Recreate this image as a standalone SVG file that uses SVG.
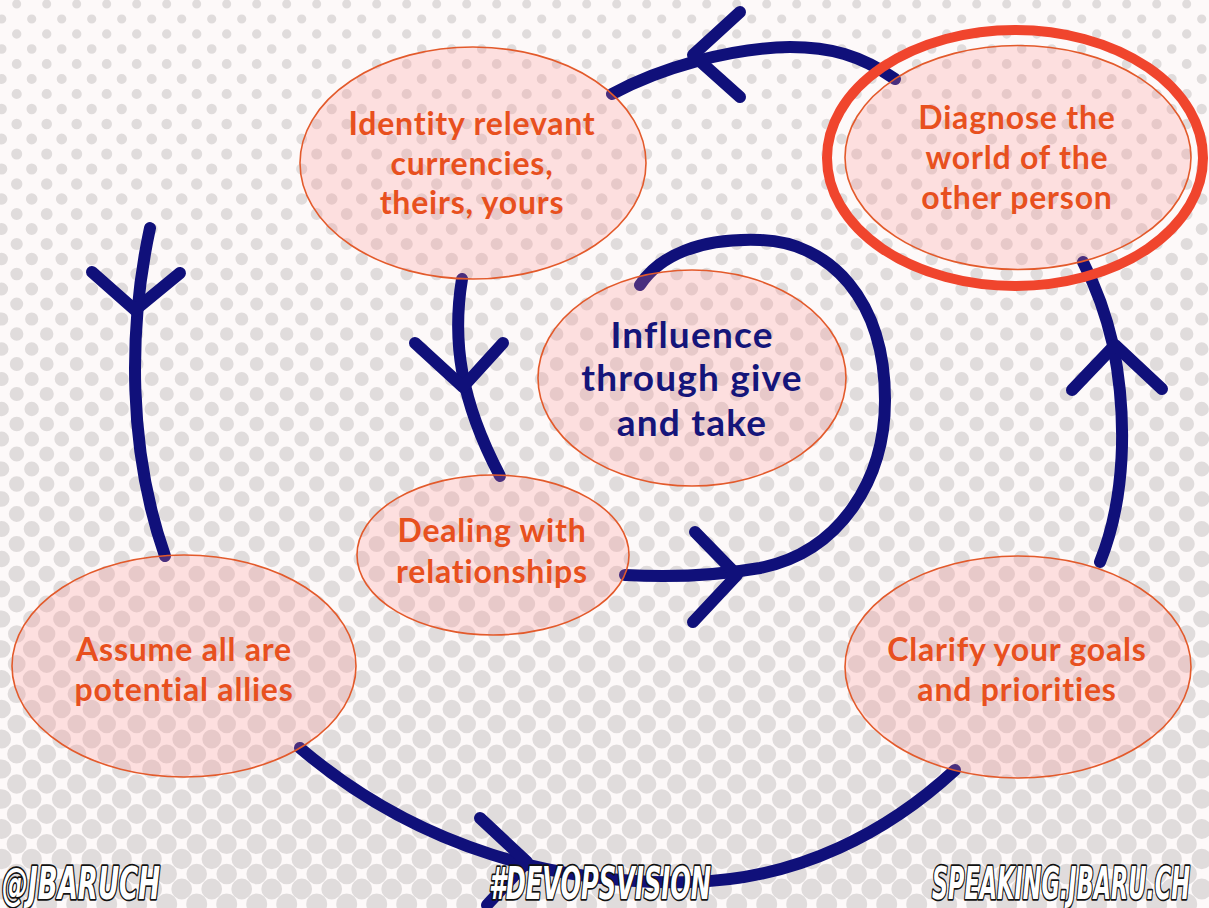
<svg xmlns="http://www.w3.org/2000/svg" width="1209" height="908" viewBox="0 0 1209 908">
<defs>
<style>
.bg{fill:#fdf9f9}
.dots path{fill:none;stroke:#e0dcdc;stroke-linecap:round;stroke-dasharray:0 30}
.node ellipse{fill:#ff8f8f;fill-opacity:0.24;stroke:#e35a2b;stroke-width:1.6}
.node ellipse.ring{fill:none;stroke:#f0452d;stroke-width:10}
.lbl{font-family:Lato,"Noto Sans",sans-serif;font-size:32px;font-weight:bold;fill:#e8501e;text-anchor:middle;letter-spacing:0.8px}
.center{font-family:Lato,"Noto Sans",sans-serif;font-size:37px;font-weight:bold;fill:#15157a;text-anchor:middle;letter-spacing:1.2px}
.conn path{fill:none;stroke:#10107a;stroke-width:12;stroke-linecap:round;stroke-linejoin:round}
.foot{font-family:"Liberation Sans Narrow","DejaVu Sans Condensed",sans-serif;font-style:italic;font-weight:bold;font-size:44px;fill:#ffffff;stroke:#111111;stroke-width:3.5;paint-order:stroke;stroke-linejoin:round}
</style>
</defs>
<rect class="bg" x="0" y="0" width="1209" height="908"/>
<g class="dots">
<path d="M16.7 4H1215" stroke-width="9.0"/>
<path d="M1.7 19H1215" stroke-width="9.2"/>
<path d="M16.7 34H1215" stroke-width="9.4"/>
<path d="M1.7 49H1215" stroke-width="9.6"/>
<path d="M16.7 64H1215" stroke-width="9.8"/>
<path d="M1.7 79H1215" stroke-width="10.0"/>
<path d="M16.7 94H1215" stroke-width="10.2"/>
<path d="M1.7 109H1215" stroke-width="10.4"/>
<path d="M16.7 124H1215" stroke-width="10.6"/>
<path d="M1.7 139H1215" stroke-width="10.8"/>
<path d="M16.7 154H1215" stroke-width="11.0"/>
<path d="M1.7 169H1215" stroke-width="11.2"/>
<path d="M16.7 184H1215" stroke-width="11.4"/>
<path d="M1.7 199H1215" stroke-width="11.6"/>
<path d="M16.7 214H1215" stroke-width="11.8"/>
<path d="M1.7 229H1215" stroke-width="12.0"/>
<path d="M16.7 244H1215" stroke-width="12.2"/>
<path d="M1.7 259H1215" stroke-width="12.4"/>
<path d="M16.7 274H1215" stroke-width="12.6"/>
<path d="M1.7 289H1215" stroke-width="12.8"/>
<path d="M16.7 304H1215" stroke-width="13.0"/>
<path d="M1.7 319H1215" stroke-width="13.2"/>
<path d="M16.7 334H1215" stroke-width="13.4"/>
<path d="M1.7 349H1215" stroke-width="13.6"/>
<path d="M16.7 364H1215" stroke-width="13.8"/>
<path d="M1.7 379H1215" stroke-width="14.0"/>
<path d="M16.7 394H1215" stroke-width="14.2"/>
<path d="M1.7 409H1215" stroke-width="14.4"/>
<path d="M16.7 424H1215" stroke-width="14.6"/>
<path d="M1.7 439H1215" stroke-width="14.8"/>
<path d="M16.7 454H1215" stroke-width="15.0"/>
<path d="M1.7 469H1215" stroke-width="15.2"/>
<path d="M16.7 484H1215" stroke-width="15.4"/>
<path d="M1.7 499H1215" stroke-width="15.6"/>
<path d="M16.7 514H1215" stroke-width="15.8"/>
<path d="M1.7 529H1215" stroke-width="16.0"/>
<path d="M16.7 544H1215" stroke-width="16.2"/>
<path d="M1.7 559H1215" stroke-width="16.4"/>
<path d="M16.7 574H1215" stroke-width="16.6"/>
<path d="M1.7 589H1215" stroke-width="16.8"/>
<path d="M16.7 604H1215" stroke-width="17.0"/>
<path d="M1.7 619H1215" stroke-width="17.2"/>
<path d="M16.7 634H1215" stroke-width="17.4"/>
<path d="M1.7 649H1215" stroke-width="17.6"/>
<path d="M16.7 664H1215" stroke-width="17.8"/>
<path d="M1.7 679H1215" stroke-width="18.0"/>
<path d="M16.7 694H1215" stroke-width="18.2"/>
<path d="M1.7 709H1215" stroke-width="18.4"/>
<path d="M16.7 724H1215" stroke-width="18.6"/>
<path d="M1.7 739H1215" stroke-width="18.8"/>
<path d="M16.7 754H1215" stroke-width="19.0"/>
<path d="M1.7 769H1215" stroke-width="19.2"/>
<path d="M16.7 784H1215" stroke-width="19.4"/>
<path d="M1.7 799H1215" stroke-width="19.6"/>
<path d="M16.7 814H1215" stroke-width="19.8"/>
<path d="M1.7 829H1215" stroke-width="20.0"/>
<path d="M16.7 844H1215" stroke-width="20.2"/>
<path d="M1.7 859H1215" stroke-width="20.4"/>
<path d="M16.7 874H1215" stroke-width="20.6"/>
<path d="M1.7 889H1215" stroke-width="20.8"/>
<path d="M16.7 904H1215" stroke-width="21.0"/>
</g>
<g id="connectors" class="conn">
<path d="M150 228 C128 330 128 450 165 556"/>
<path d="M92 272 L135 310 L180 273"/>
<path d="M300 748 C420 850 560 885 690 882 C800 880 890 830 955 770"/>
<path d="M480 818 L527 862 L487 905"/>
<path d="M1100 562 C1125 500 1128 420 1113 345 C1105 310 1095 285 1083 262"/>
<path d="M1072 390 L1115 345 L1162 389"/>
<path d="M895 79 C860 55 830 47 790 47 C730 48 660 68 612 94"/>
<path d="M740 12 L693 55 L740 97"/>
<path d="M462 279 C452 340 460 400 500 476"/>
<path d="M415 343 L463 387 L503 343"/>
<path d="M625 575 C680 578 720 575 760 568 C840 552 885 480 885 400 C885 300 830 242 760 240 C700 238 660 255 640 285"/>
<path d="M695 532 L737 575 L693 622"/>
</g>
<g id="node-identify" class="node">
<ellipse cx="473" cy="163" rx="173" ry="116"/>
<text class="lbl" x="472" y="135">Identity relevant</text>
<text class="lbl" x="472" y="175">currencies,</text>
<text class="lbl" x="472" y="214">theirs, yours</text>
</g>
<g id="node-diagnose" class="node">
<ellipse cx="1018" cy="157.5" rx="173" ry="112"/>
<text class="lbl" x="1017" y="129">Diagnose the</text>
<text class="lbl" x="1017" y="169">world of the</text>
<text class="lbl" x="1017" y="209">other person</text>
<ellipse class="ring" cx="1015" cy="158" rx="188" ry="128"/>
</g>
<g id="node-influence" class="node">
<ellipse cx="692" cy="378" rx="154" ry="108"/>
<text class="center" x="692" y="348">Influence</text>
<text class="center" x="692" y="391">through give</text>
<text class="center" x="692" y="436">and take</text>
</g>
<g id="node-dealing" class="node">
<ellipse cx="493" cy="555" rx="136" ry="80"/>
<text class="lbl" x="492" y="542">Dealing with</text>
<text class="lbl" x="492" y="583">relationships</text>
</g>
<g id="node-assume" class="node">
<ellipse cx="184" cy="666" rx="172" ry="111"/>
<text class="lbl" x="184" y="661">Assume all are</text>
<text class="lbl" x="184" y="701">potential allies</text>
</g>
<g id="node-clarify" class="node">
<ellipse cx="1018" cy="667" rx="173" ry="111"/>
<text class="lbl" x="1017" y="661">Clarify your goals</text>
<text class="lbl" x="1017" y="701">and priorities</text>
</g>
<g id="footer">
<text class="foot" x="2" y="899" textLength="158" lengthAdjust="spacingAndGlyphs">@JBARUCH</text>
<text class="foot" x="489" y="899" textLength="222" lengthAdjust="spacingAndGlyphs">#DEVOPSVISION</text>
<text class="foot" x="932" y="899" textLength="258" lengthAdjust="spacingAndGlyphs">SPEAKING.JBARU.CH</text>
</g>
</svg>
